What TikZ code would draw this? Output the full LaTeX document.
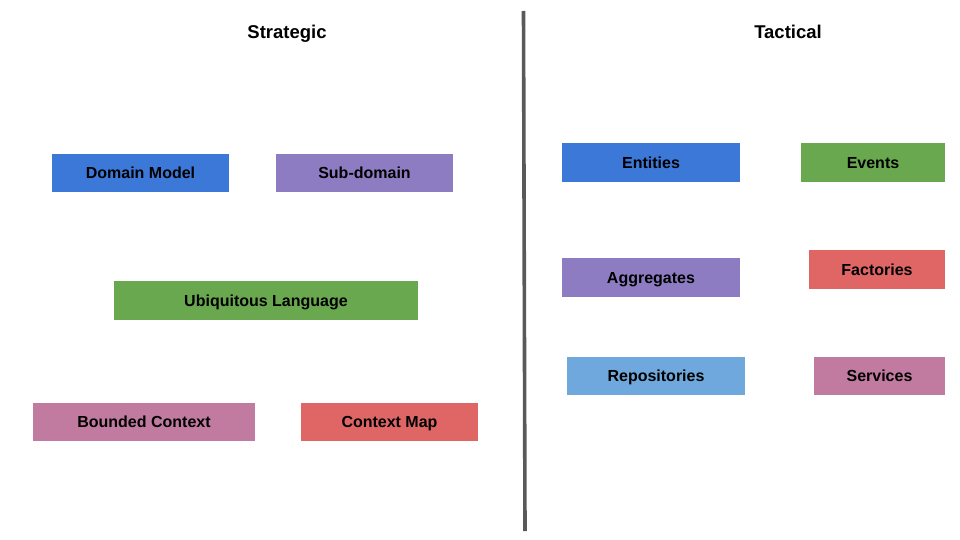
\documentclass[tikz,border=0pt]{standalone}
\usepackage{xcolor}
\usepackage{fontspec}
\usepackage{tikz}
\setmainfont{Liberation Sans}
\definecolor{dddBlue}{HTML}{3C78D8}
\definecolor{dddPurple}{HTML}{8E7CC3}
\definecolor{dddGreen}{HTML}{6AA84F}
\definecolor{dddPink}{HTML}{C27BA0}
\definecolor{dddRed}{HTML}{E06666}
\definecolor{dddSky}{HTML}{6FA8DC}
\definecolor{dddGrey}{HTML}{595959}
\tikzset{
  card/.style={minimum height=38.5pt, inner sep=0pt, text height=11.5pt, text depth=0pt,
    font=\bfseries\fontsize{16}{19}\selectfont},
  head/.style={text height=13.3pt, text depth=0pt, font=\bfseries\fontsize{18.5}{22}\selectfont},
  divider/.style={line width=3.6pt, dddGrey},
}

\begin{document}
\begin{tikzpicture}[x=1pt, y=-1pt]
  \useasboundingbox (0,0) rectangle (960,540);
  % column titles
  \node[head] (strategic) at (287,32) {Strategic};
  \node[head] (tactical) at (788,32) {Tactical};
  % strategic side
  \node[card, fill=dddBlue, minimum width=177pt] (domain) at (140.5,173) {Domain Model};
  \node[card, fill=dddPurple, minimum width=177pt] (subdomain) at (364.5,173) {Sub-domain};
  \node[card, fill=dddGreen, minimum width=304pt] (language) at (266,300.5) {Ubiquitous Language};
  \node[card, fill=dddPink, minimum width=222pt] (bounded) at (144,422) {Bounded Context};
  \node[card, fill=dddRed, minimum width=177pt] (contextmap) at (389.5,422) {Context Map};
  % tactical side
  \node[card, fill=dddBlue, minimum width=178pt] (entities) at (651,162.5) {Entities};
  \node[card, fill=dddGreen, minimum width=144pt] (events) at (873,162.5) {Events};
  \node[card, fill=dddPurple, minimum width=178pt] (aggregates) at (651,277.5) {Aggregates};
  \node[card, fill=dddRed, minimum width=136pt] (factories) at (877,269.5) {Factories};
  \node[card, fill=dddSky, minimum width=178pt] (repos) at (656,376) {Repositories};
  \node[card, fill=dddPink, minimum width=131pt] (services) at (879.5,376) {Services};
  % divider
  \coordinate (divtop) at (523.5,11);
  \coordinate (divbot) at (525,531);
  \draw[divider] (divtop) -- (divbot);
\end{tikzpicture}
\end{document}
